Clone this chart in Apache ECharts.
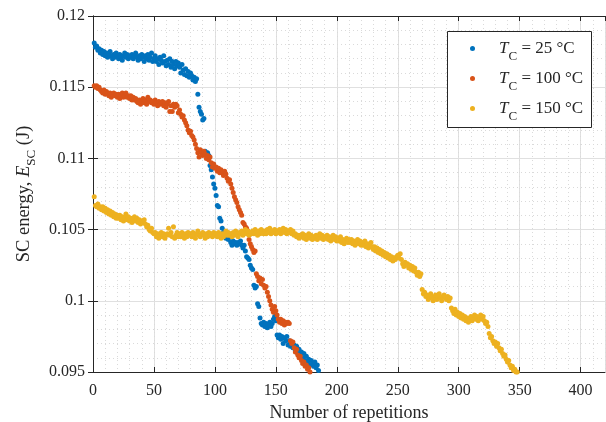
<!DOCTYPE html>
<html>
<head>
<meta charset="utf-8">
<script src="https://cdn.jsdelivr.net/npm/echarts@6/dist/echarts.min.js"></script>
<style>
  html, body { margin: 0; padding: 0; background: #fff; }
  #chart { width: 606px; height: 422px; }
</style>
</head>
<body>
<div id="chart"></div>
<script>
// Short-circuit energy per repetition, one value per repetition (starting at 1)
const caseTemps = ['25 °C', '100 °C', '150 °C'];
const caseColors = ['#0072BD', '#D95319', '#EDB120'];

const energy25 = [
  0.1181,0.1178,0.1179,0.1176,0.1177,0.1174,0.1176,0.1173,0.1175,0.1172,
  0.1174,0.1171,0.1173,0.1175,0.1172,0.1170,0.1173,0.1171,0.1174,0.1172,
  0.1170,0.1173,0.1171,0.1169,0.1172,0.1174,0.1171,0.1173,0.1170,0.1172,
  0.1171,0.1173,0.1170,0.1172,0.1174,0.1171,0.1169,0.1172,0.1170,0.1173,
  0.1171,0.1168,0.1172,0.1170,0.1173,0.1169,0.1171,0.1174,0.1168,0.1170,
  0.1172,0.1168,0.1170,0.1166,0.1171,0.1169,0.1167,0.1172,0.1168,0.1165,
  0.1169,0.1166,0.1170,0.1164,0.1168,0.1166,0.1163,0.1168,0.1165,0.1167,
  0.1164,0.1160,0.1166,0.1162,0.1159,0.1163,0.1158,0.1161,0.1157,0.1160,
  0.1158,0.1155,0.1157,0.1154,0.1156,
  0.1145,0.1136,0.1133,0.1131,0.1127,0.1128,
  0.1105,0.1103,0.1104,0.1102,0.1095,
  0.1092,0.1087,0.1082,0.1079,0.1074,
  0.1067,0.1066,0.1058,0.1056,0.1051,
  0.1048,0.1046,0.1044,0.1047,0.1043,0.1045,
  0.1041,0.1039,0.1042,0.1040,0.1041,0.1039,0.1041,0.1040,0.1042,0.1039,
  0.1037,0.1039,0.1035,0.1031,0.1030,0.1029,
  0.1025,0.1023,0.1022,
  0.1011,0.1009,0.1010,
  0.0998,0.0996,0.0988,
  0.0984,0.0983,0.0985,0.0982,0.0984,0.0981,0.0983,0.0985,0.0982,0.0984,0.0987,0.0989,0.0986,
  0.0976,0.0974,0.0976,0.0973,0.0975,0.0970,0.0974,0.0972,0.0975,0.0969,
  0.0972,0.0968,0.0971,0.0967,0.0969,0.0965,0.0968,0.0963,0.0966,0.0962,
  0.0964,0.0960,0.0963,0.0958,0.0961,0.0957,0.0959,0.0955,0.0958,0.0956,
  0.0954,0.0957,0.0953,0.0955,0.0951
];

const energy100 = [
  0.1151,0.1150,0.1151,0.1149,0.1150,0.1148,
  0.1147,0.1146,0.1148,0.1145,0.1147,0.1146,0.1144,0.1146,0.1143,0.1145,
  0.1146,0.1144,0.1145,0.1143,0.1145,0.1142,0.1144,0.1146,0.1143,0.1144,
  0.1146,0.1143,0.1144,0.1142,0.1144,0.1141,0.1143,0.1141,0.1142,0.1140,
  0.1139,0.1141,0.1138,0.1140,0.1142,0.1139,0.1141,0.1138,0.1143,0.1140,
  0.1141,0.1139,0.1140,0.1138,0.1141,0.1139,0.1137,0.1140,0.1138,0.1139,
  0.1140,0.1137,0.1139,0.1136,0.1138,0.1140,0.1133,0.1137,0.1133,0.1138,
  0.1136,0.1138,0.1137,0.1132,0.1134,0.1131,0.1129,0.1130,
  0.1127,0.1125,0.1123,0.1120,0.1118,0.1119,0.1116,0.1115,0.1113,0.1110,0.1107,
  0.1104,0.1101,0.1106,0.1104,0.1102,0.1105,0.1103,0.1100,0.1102,0.1099,0.1101,
  0.1097,0.1094,0.1096,0.1093,
  0.1094,0.1091,0.1093,0.1090,0.1092,0.1090,0.1088,0.1091,0.1089,0.1086,0.1084,
  0.1085,0.1082,0.1079,0.1076,0.1073,0.1071,0.1069,0.1066,0.1064,0.1062,0.1060,
  0.1055,0.1054,0.1052,0.1051,0.1049,
  0.1043,0.1040,0.1038,0.1036,0.1034,0.1035,0.1019,
  0.1017,0.1014,0.1016,0.1012,0.1015,0.1011,0.1009,0.1010,0.1006,0.1003,
  0.1000,0.0997,0.0994,0.0992,0.0996,0.0993,0.0990,0.0987,
  0.0985,0.0987,0.0984,0.0986,0.0983,0.0985,0.0984,0.0985,0.0984,
  0.0972,0.0970,0.0971,0.0967,0.0964,0.0966,0.0962,0.0960,0.0961,0.0958,
  0.0956,0.0957,0.0954,0.0955,0.0952,0.0953,0.0950
];

const energy150 = [
  0.1073,0.1067,0.1066,0.1068,0.1065,0.1066,0.1064,0.1066,0.1063,0.1065,
  0.1062,0.1064,0.1061,0.1063,0.1060,0.1062,0.1059,0.1061,0.1058,0.1060,
  0.1058,0.1060,0.1057,0.1059,0.1056,0.1058,0.1061,0.1057,0.1059,0.1056,
  0.1058,0.1055,0.1057,0.1059,0.1056,0.1058,0.1055,0.1057,0.1054,0.1056,
  0.1055,0.1057,0.1054,0.1052,0.1053,0.1050,0.1049,0.1051,0.1048,0.1047,
  0.1048,0.1045,0.1047,0.1044,0.1046,0.1048,0.1045,0.1047,0.1044,0.1046,
  0.1047,0.1051,0.1046,0.1048,0.1045,0.1052,0.1044,0.1046,0.1048,0.1045,
  0.1047,0.1045,0.1048,0.1046,0.1044,0.1047,0.1045,0.1048,0.1046,0.1047,
  0.1045,0.1048,0.1046,0.1044,0.1047,0.1049,0.1046,0.1045,0.1047,0.1048,
  0.1046,0.1044,0.1047,0.1045,0.1048,0.1046,0.1047,0.1045,0.1048,0.1046,
  0.1047,0.1045,0.1048,0.1046,0.1044,0.1047,0.1045,0.1047,0.1049,0.1046,
  0.1048,0.1046,0.1047,0.1045,0.1048,0.1046,0.1049,0.1047,0.1045,0.1048,
  0.1047,0.1049,0.1046,0.1048,0.1050,0.1047,0.1049,0.1046,0.1048,0.1047,
  0.1049,0.1047,0.1050,0.1048,0.1046,0.1049,0.1047,0.1050,0.1048,0.1047,
  0.1049,0.1047,0.1050,0.1048,0.1051,0.1047,0.1049,0.1048,0.1050,0.1047,
  0.1049,0.1048,0.1050,0.1047,0.1049,0.1051,0.1048,0.1050,0.1047,0.1049,
  0.1048,0.1050,0.1047,0.1049,0.1046,0.1047,0.1045,0.1046,0.1044,0.1046,
  0.1045,0.1047,0.1044,0.1046,0.1043,0.1045,0.1047,0.1044,0.1046,0.1043,
  0.1045,0.1044,0.1046,0.1043,0.1045,0.1047,0.1044,0.1046,0.1043,0.1045,
  0.1044,0.1046,0.1043,0.1045,0.1042,0.1044,0.1046,0.1043,0.1045,0.1042,
  0.1044,0.1042,0.1045,0.1041,0.1043,0.1040,0.1042,0.1044,0.1041,0.1043,
  0.1041,0.1043,0.1040,0.1042,0.1039,0.1041,0.1043,0.1040,0.1042,0.1039,
  0.1041,0.1039,0.1042,0.1038,0.1040,0.1037,0.1039,0.1041,0.1038,0.1036,
  0.1038,0.1035,0.1037,0.1034,0.1036,0.1033,0.1035,0.1032,0.1034,0.1031,
  0.1033,0.1030,0.1032,0.1029,0.1031,0.1028,0.1030,0.1029,0.1031,0.1032,
  0.1030,0.1033,0.1029,0.1026,0.1024,0.1027,0.1025,0.1026,0.1023,0.1025,
  0.1022,0.1024,0.1021,0.1023,0.1020,0.1018,0.1020,0.1017,0.1019,0.1008,
  0.1005,0.1006,0.1003,0.1004,0.1001,0.1002,0.1005,0.1003,0.1000,0.1002,
  0.1004,0.1001,0.1003,0.1005,0.1002,0.1000,0.1003,0.1004,0.1002,0.1001,
  0.1003,0.1000,0.1002,0.0995,0.0993,0.0991,0.0994,0.0990,0.0992,0.0989,
  0.0991,0.0988,0.0990,0.0987,0.0989,0.0986,0.0988,0.0985,0.0987,0.0989,
  0.0986,0.0988,0.0990,0.0987,0.0989,0.0986,0.0988,0.0990,0.0987,0.0989,
  0.0986,0.0984,0.0985,0.0982,0.0977,0.0974,0.0975,0.0972,0.0970,0.0971,
  0.0968,0.0970,0.0967,0.0965,0.0966,0.0963,0.0961,0.0962,0.0959,0.0957,
  0.0958,0.0955,0.0953,0.0954,0.0951,0.0952,0.0950,0.0950
];

const seriesValues = [energy25, energy100, energy150];

// Axis ranges and tick steps
const xRange = [0, 420];
const xStep = 50;
const xMinorStep = 10;
const yRange = [0.095, 0.12];
const yStep = 0.005;

const SERIF = '"Liberation Serif", "Times New Roman", serif';
const INK = '#262626';
const MAJOR_GRID = '#e0e0e0';
const MINOR_GRID = '#dadada';

const chart = echarts.init(document.getElementById('chart'), null, { renderer: 'canvas' });

const frameAxis = {
  axisLine: { show: true, lineStyle: { color: INK, width: 1 } },
  axisTick: { show: true, inside: true, length: 5, lineStyle: { color: INK } },
  axisLabel: { show: false },
  splitLine: { show: false }
};

const option = {
  animation: false,
  backgroundColor: '#ffffff',
  grid: { left: 93, right: 1, top: 16, bottom: 50, containLabel: false, outerBoundsMode: 'none' },
  xAxis: [
    {
      type: 'value', min: xRange[0], max: xRange[1], interval: xStep, position: 'bottom',
      name: 'Number of repetitions', nameLocation: 'middle', nameGap: 26,
      nameTextStyle: { fontFamily: SERIF, fontSize: 18, color: INK },
      axisLine: { show: true, onZero: false, lineStyle: { color: INK, width: 1 } },
      axisTick: { show: true, inside: true, length: 5, lineStyle: { color: INK } },
      axisLabel: { show: true, showMaxLabel: false, margin: 11, fontFamily: SERIF, fontSize: 16, color: INK },
      splitLine: { show: true, lineStyle: { color: MAJOR_GRID, width: 1 } }
    },
    Object.assign({ type: 'value', min: xRange[0], max: xRange[1], interval: xStep, position: 'top' }, frameAxis),
    {
      // minor grid every 10 repetitions
      type: 'value', min: xRange[0], max: xRange[1], interval: xMinorStep, position: 'bottom',
      axisLine: { show: false }, axisTick: { show: false }, axisLabel: { show: false },
      splitLine: { show: true, lineStyle: { color: MINOR_GRID, width: 1, type: [1, 3] } },
      z: 0
    }
  ],
  yAxis: [
    {
      type: 'value', min: yRange[0], max: yRange[1], interval: yStep, position: 'left',
      name: '{a|SC energy, }{i|E}{s|SC}{a| (J)}', nameLocation: 'middle', nameGap: 48,
      nameTextStyle: {
        fontFamily: SERIF, color: INK,
        rich: {
          a: { fontFamily: SERIF, fontSize: 18.5, color: INK },
          i: { fontFamily: SERIF, fontSize: 18.5, fontStyle: 'italic', color: INK },
          s: { fontFamily: SERIF, fontSize: 13, color: INK, padding: [14, 0, 0, 0] }
        }
      },
      axisLine: { show: true, onZero: false, lineStyle: { color: INK, width: 1 } },
      axisTick: { show: true, inside: true, length: 5, lineStyle: { color: INK } },
      axisLabel: {
        show: true, margin: 8, fontFamily: SERIF, fontSize: 16, color: INK,
        formatter: v => String(parseFloat(v.toFixed(3)))
      },
      splitLine: { show: true, lineStyle: { color: MAJOR_GRID, width: 1 } },
      minorTick: { show: false, splitNumber: 5 },
      minorSplitLine: { show: true, lineStyle: { color: MINOR_GRID, width: 1, type: [1, 3] } }
    },
    Object.assign({ type: 'value', min: yRange[0], max: yRange[1], interval: yStep, position: 'right' }, frameAxis)
  ],
  legend: {
    orient: 'vertical', left: 470, top: 40, padding: 0, itemGap: 7,
    itemWidth: 5, itemHeight: 5, icon: 'circle',
    data: caseTemps,
    formatter: name => '{t|T}{s|C}{n| = ' + name + '}',
    textStyle: {
      fontFamily: SERIF, color: INK,
      rich: {
        t: { fontFamily: SERIF, fontSize: 17, fontStyle: 'italic', color: INK, padding: [0, 0, 0, 19] },
        s: { fontFamily: SERIF, fontSize: 13, color: INK, padding: [16, 0, 0, 0] },
        n: { fontFamily: SERIF, fontSize: 17, color: INK }
      }
    },
    z: 20
  },
  graphic: [{
    type: 'rect', z: 10,
    shape: { x: 447.5, y: 31.5, width: 144, height: 96 },
    style: { fill: '#ffffff', stroke: INK, lineWidth: 1 }
  }],
  series: seriesValues.map((vals, k) => ({
    name: caseTemps[k],
    type: 'scatter',
    xAxisIndex: 0, yAxisIndex: 0,
    symbol: 'circle', symbolSize: 5,
    itemStyle: { color: caseColors[k], opacity: 1 },
    data: vals.map((v, i) => [i + 1, v]),
    z: 3 + k
  }))
};

chart.setOption(option);
</script>
</body>
</html>
